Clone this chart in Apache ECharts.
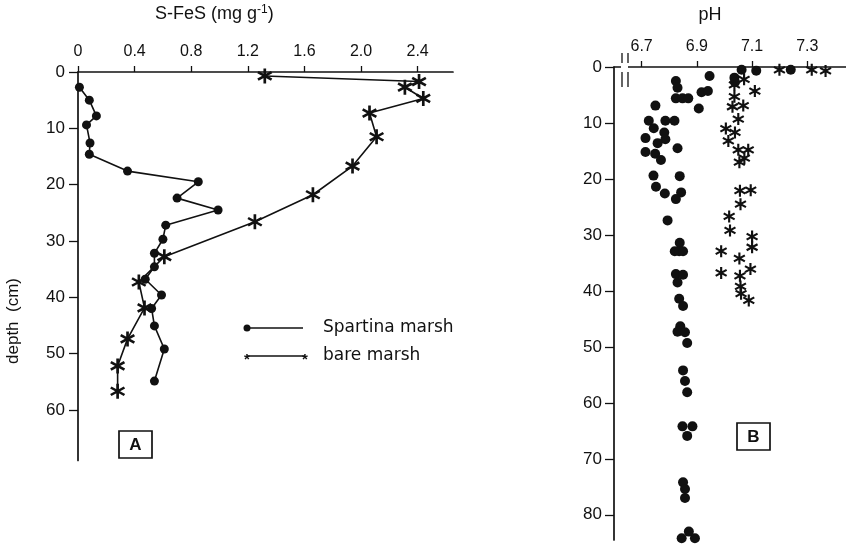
<!DOCTYPE html>
<html><head><meta charset="utf-8">
<script src="https://cdn.jsdelivr.net/npm/echarts@6/dist/echarts.min.js"></script>
<style>html,body{margin:0;padding:0;background:#fff}#c{width:846px;height:546px}</style>
</head><body><div id="c"></div>
<script>
// Panel A: S-FeS (mg g-1) vs depth (cm)
const spartinaDepthA = [2.7,5,7.8,9.4,12.6,14.6,17.6,19.5,22.4,24.5,27.2,29.7,32.2,34.6,36.8,39.6,42.0,45.1,49.2,54.9];
const spartinaFeS    = [0.01,0.08,0.13,0.06,0.085,0.08,0.35,0.85,0.70,0.99,0.62,0.60,0.54,0.54,0.475,0.59,0.52,0.54,0.61,0.54];
const bareDepthA = [0.7,1.7,2.7,4.7,7.3,11.5,16.7,21.8,26.6,32.8,37.3,41.9,47.4,52.2,56.7];
const bareFeS    = [1.32,2.41,2.31,2.44,2.06,2.11,1.94,1.66,1.25,0.61,0.43,0.47,0.35,0.28,0.28];
const fesTicks = [0,0.4,0.8,1.2,1.6,2.0,2.4];
const depthTicksA = [0,10,20,30,40,50,60];

// Panel B: pH vs depth (cm)
const spartinaPH = [7.062,7.115,7.24,6.946,7.036,7.038,6.824,6.83,6.824,6.848,6.869,6.917,6.94,6.75,6.907,
  6.726,6.786,6.819,6.744,6.782,6.714,6.786,6.758,6.83,6.714,6.749,6.77,6.743,6.838,6.752,6.784,6.843,6.824,6.794,
  6.838,6.82,6.836,6.85,6.824,6.85,6.83,6.836,6.85,6.84,6.83,6.857,6.865,6.85,6.857,6.865,6.848,6.884,6.865,
  6.85,6.857,6.857,6.871,6.845,6.893];
const spartinaDepthB = [0.5,0.65,0.5,1.6,1.9,2.7,2.5,3.7,5.6,5.6,5.6,4.5,4.3,6.9,7.4,
  9.6,9.6,9.6,10.95,11.7,12.7,12.9,13.6,14.5,15.2,15.5,16.6,19.4,19.5,21.4,22.6,22.4,23.6,27.4,
  31.4,32.9,32.9,32.9,37.0,37.1,38.5,41.4,42.7,46.3,47.3,47.4,49.3,54.2,56.1,58.1,64.2,64.2,65.9,
  74.2,75.4,77.0,83.0,84.2,84.2];
const barePH = [7.199,7.316,7.366,7.071,7.036,7.11,7.036,7.029,7.068,7.05,7.005,7.038,7.014,7.05,7.086,7.072,7.054,
  7.056,7.095,7.058,7.017,7.02,7.1,7.1,6.988,7.054,7.094,6.988,7.056,7.058,7.06,7.088];
const bareDepthB = [0.5,0.5,0.7,2.2,3.2,4.3,5.3,7.1,6.9,9.3,11,11.7,13.2,14.8,14.8,16.3,17,
  22.1,22,24.5,26.7,29.2,30.3,32.2,32.9,34.2,36.1,36.8,37.3,39.2,40.5,41.7];
const phTicks = [6.7,6.9,7.1,7.3,7.5];
const depthTicksB = [0,10,20,30,40,50,60,70,80];

const zip = (xs, ys) => xs.map((x, i) => [x, ys[i]]);
// six-armed asterisk, three bars of equal winding
function starPath(w) {
  const s = Math.sin(Math.PI / 3), c = Math.cos(Math.PI / 3);
  const bar = (dx, dy) => { // direction (dx,dy), perpendicular (dy,-dx)
    const px = dy * w, py = -dx * w;
    const pts = [[dx + px, dy + py], [dx - px, dy - py], [-dx - px, -dy - py], [-dx + px, -dy + py]];
    return 'M' + pts.map(p => p[0].toFixed(3) + ' ' + p[1].toFixed(3)).join(' L') + ' Z';
  };
  return 'path://' + bar(0, 1) + ' ' + bar(s, c) + ' ' + bar(-s, c);
}
const STAR = starPath(0.17);
const INK = '#111';
const FONT = 'Liberation Sans';

const chart = echarts.init(document.getElementById('c'), null, {renderer: 'canvas'});
const axisLine = {lineStyle: {color: INK, width: 1.7}};
chart.setOption({
  animation: false,
  backgroundColor: '#fff',
  grid: [
    {left: 78, top: 72, width: 375, height: 388.5},
    {left: 614, top: 67, width: 236, height: 473}
  ],
  xAxis: [
    {gridIndex: 0, type: 'value', position: 'top', min: 0, max: 2.65, axisLine, splitLine: {show: false},
      axisTick: {show: true, length: 6, lineStyle: {color: INK, width: 1.3}, customValues: fesTicks},
      axisLabel: {color: INK, fontFamily: FONT, fontSize: 16, margin: 12, customValues: fesTicks,
        formatter: v => v === 0 ? '0' : v.toFixed(1)}},
    {gridIndex: 1, type: 'value', position: 'top', min: 6.6, max: 7.44, axisLine, splitLine: {show: false},
      axisTick: {show: true, length: 6, lineStyle: {color: INK, width: 1.3}, customValues: phTicks},
      axisLabel: {color: INK, fontFamily: FONT, fontSize: 16, margin: 12, customValues: phTicks,
        formatter: v => v.toFixed(1)}}
  ],
  yAxis: [
    {gridIndex: 0, type: 'value', inverse: true, min: 0, max: 69, axisLine, splitLine: {show: false},
      axisTick: {show: true, length: 9, lineStyle: {color: INK, width: 1.3}, customValues: depthTicksA},
      axisLabel: {color: INK, fontFamily: FONT, fontSize: 17, margin: 13, customValues: depthTicksA}},
    {gridIndex: 1, type: 'value', inverse: true, min: 0, max: 84.5, axisLine, splitLine: {show: false},
      axisTick: {show: true, length: 9, lineStyle: {color: INK, width: 1.3}, customValues: depthTicksB},
      axisLabel: {color: INK, fontFamily: FONT, fontSize: 17, margin: 12, customValues: depthTicksB}}
  ],
  series: [
    {name: 'Spartina marsh', type: 'line', xAxisIndex: 0, yAxisIndex: 0, data: zip(spartinaFeS, spartinaDepthA),
      symbol: 'circle', symbolSize: 9, showAllSymbol: true, clip: false,
      lineStyle: {color: INK, width: 1.6}, itemStyle: {color: INK, opacity: 1}},
    {name: 'bare marsh', type: 'line', xAxisIndex: 0, yAxisIndex: 0, data: zip(bareFeS, bareDepthA),
      symbol: STAR, symbolSize: 15, showAllSymbol: true, clip: false,
      lineStyle: {color: INK, width: 1.6}, itemStyle: {color: INK, opacity: 1}},
    {name: 'Spartina pH', type: 'scatter', xAxisIndex: 1, yAxisIndex: 1, data: zip(spartinaPH, spartinaDepthB),
      symbol: 'circle', symbolSize: 10, clip: false, itemStyle: {color: INK, opacity: 1}},
    {name: 'bare pH', type: 'scatter', xAxisIndex: 1, yAxisIndex: 1, data: zip(barePH, bareDepthB),
      symbol: STAR, symbolSize: 12, clip: false, itemStyle: {color: INK, opacity: 1}}
  ],
  graphic: [
    {type: 'text', z: 100, left: 155, top: 4, style: {
      text: 'S-FeS (mg g{sup|-1})', fill: INK, font: '18px "Liberation Sans"',
      rich: {sup: {fontSize: 12, verticalAlign: 'top', padding: [0, 0, 9, 0], fill: INK, fontFamily: FONT}}}},
    {type: 'text', z: 100, x: 13, y: 321, rotation: Math.PI / 2, style: {
      text: 'depth  (cm)', fill: INK, font: '17px "Liberation Sans"', align: 'center', verticalAlign: 'middle'}},
    {type: 'text', z: 100, x: 710, y: 15, style: {
      text: 'pH', fill: INK, font: '18px "Liberation Sans"', align: 'center', verticalAlign: 'middle'}},
    // legend
    {type: 'line', z: 100, shape: {x1: 247, y1: 328, x2: 303, y2: 328}, style: {stroke: INK, lineWidth: 1.3}},
    {type: 'circle', z: 100, shape: {cx: 247, cy: 328, r: 3.5}, style: {fill: INK}},
    {type: 'text', z: 100, x: 323, y: 328, style: {text: 'Spartina marsh', fill: INK, font: '17px "DejaVu Sans"', verticalAlign: 'middle'}},
    {type: 'line', z: 100, shape: {x1: 247, y1: 356, x2: 305, y2: 356}, style: {stroke: INK, lineWidth: 1.3}},
    {type: 'text', z: 100, x: 247, y: 360, style: {text: '*', fill: INK, font: 'bold 15px "Liberation Sans"', align: 'center', verticalAlign: 'middle'}},
    {type: 'text', z: 100, x: 305, y: 360, style: {text: '*', fill: INK, font: 'bold 15px "Liberation Sans"', align: 'center', verticalAlign: 'middle'}},
    {type: 'text', z: 100, x: 323, y: 356, style: {text: 'bare marsh', fill: INK, font: '17px "DejaVu Sans"', verticalAlign: 'middle'}},
    // panel labels
    {type: 'rect', z: 100, shape: {x: 119, y: 431, width: 33, height: 27}, style: {fill: '#fff', stroke: INK, lineWidth: 1.7}},
    {type: 'text', z: 101, x: 135.5, y: 445, style: {text: 'A', fill: INK, font: 'bold 17px "Liberation Sans"', align: 'center', verticalAlign: 'middle'}},
    {type: 'rect', z: 100, shape: {x: 737, y: 423, width: 33, height: 27}, style: {fill: '#fff', stroke: INK, lineWidth: 1.7}},
    {type: 'text', z: 101, x: 753.5, y: 437, style: {text: 'B', fill: INK, font: 'bold 17px "Liberation Sans"', align: 'center', verticalAlign: 'middle'}},
    // axis break in panel B
    {type: 'rect', z: 100, shape: {x: 621, y: 63, width: 7, height: 8}, style: {fill: '#fff'}},
    {type: 'line', z: 101, shape: {x1: 622, y1: 53, x2: 622, y2: 63}, style: {stroke: INK, lineWidth: 1.3}},
    {type: 'line', z: 101, shape: {x1: 628, y1: 53, x2: 628, y2: 63}, style: {stroke: INK, lineWidth: 1.3}},
    {type: 'line', z: 101, shape: {x1: 622, y1: 72, x2: 622, y2: 87}, style: {stroke: INK, lineWidth: 1.3}},
    {type: 'line', z: 101, shape: {x1: 628, y1: 72, x2: 628, y2: 87}, style: {stroke: INK, lineWidth: 1.3}}
  ]
});
</script></body></html>
